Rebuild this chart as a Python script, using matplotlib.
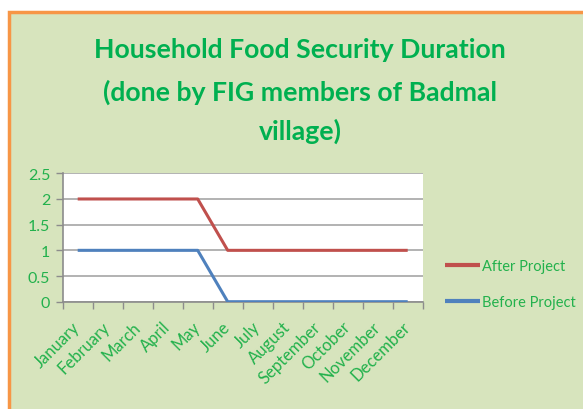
import matplotlib.pyplot as plt
from matplotlib.patches import Rectangle

months = ["January", "February", "March", "April", "May", "June",
          "July", "August", "September", "October", "November", "December"]
after_project = [2, 2, 2, 2, 2, 1, 1, 1, 1, 1, 1, 1]
before_project = [1, 1, 1, 1, 1, 0, 0, 0, 0, 0, 0, 0]
y_ticks = [0, 0.5, 1, 1.5, 2, 2.5]
y_labels = ["0", "0.5", "1", "1.5", "2", "2.5"]

green = "#22B14C"
bg = "#D7E4BD"
plt.rcParams["font.family"] = ["Lato", "DejaVu Sans"]

fig = plt.figure(figsize=(5.83, 4.10), dpi=100)
fig.patch.set_facecolor("white")

# chart area frame
frame = Rectangle((9 / 583, -0.05), 1.2, 1 - 13 / 410 + 0.05,
                  transform=fig.transFigure, facecolor=bg,
                  edgecolor="#F79646", linewidth=2.5, zorder=-1)
fig.patches.append(frame)

title_lines = ["Household Food Security Duration",
               "(done by FIG members of Badmal",
               "village)"]
for txt, ypix in zip(title_lines, [50, 92, 131]):
    fig.text(0.515, 1 - ypix / 410, txt, ha="center", va="center",
             fontsize=19.2, fontweight="bold", color="#00B050")

ax = fig.add_axes([62.7 / 583, 1 - 302.7 / 410, 360 / 583, 128.4 / 410])
ax.set_zorder(2)
ax.set_facecolor("white")

x = list(range(len(months)))
ax.plot(x, after_project, color="#C0504D", linewidth=2.2, label="After Project",
        solid_capstyle="butt", zorder=3)
ax.plot(x, before_project, color="#4F81BD", linewidth=2.2, label="Before Project",
        solid_capstyle="butt", zorder=3)

ax.set_xlim(-0.5, 11.5)
ax.set_ylim(0, 2.5)
ax.set_yticks(y_ticks)
ax.set_yticklabels(y_labels)
ax.yaxis.grid(True, color="#A6A6A6", linewidth=1.2)
ax.set_axisbelow(True)

ax.set_xticks([i - 0.5 for i in range(13)])
ax.set_xticklabels([])
ax.set_xticks(x, minor=True)
ax.set_xticklabels(months, minor=True, rotation=45, ha="right", va="center",
                   rotation_mode="anchor", color=green, fontsize=12)
ax.tick_params(axis="x", which="minor", length=0, pad=16)
ax.tick_params(axis="x", which="major", length=5, color="#8C8C8C", width=1)
ax.tick_params(axis="y", length=5, color="#8C8C8C", width=1, labelcolor=green,
               labelsize=11.5, pad=4)

for side in ["top", "right"]:
    ax.spines[side].set_visible(False)
for side in ["left", "bottom"]:
    ax.spines[side].set_color("#8C8C8C")
    ax.spines[side].set_linewidth(1.2)

leg = fig.legend(loc="center left", bbox_to_anchor=(432 / 583, 1 - 285 / 410),
                 frameon=False, fontsize=10.5, handlelength=2.4, handletextpad=0.1,
                 labelspacing=1.5, labelcolor=green)
for line in leg.get_lines():
    line.set_linewidth(3)

fig.savefig("out.png", dpi=100, facecolor=fig.get_facecolor())
